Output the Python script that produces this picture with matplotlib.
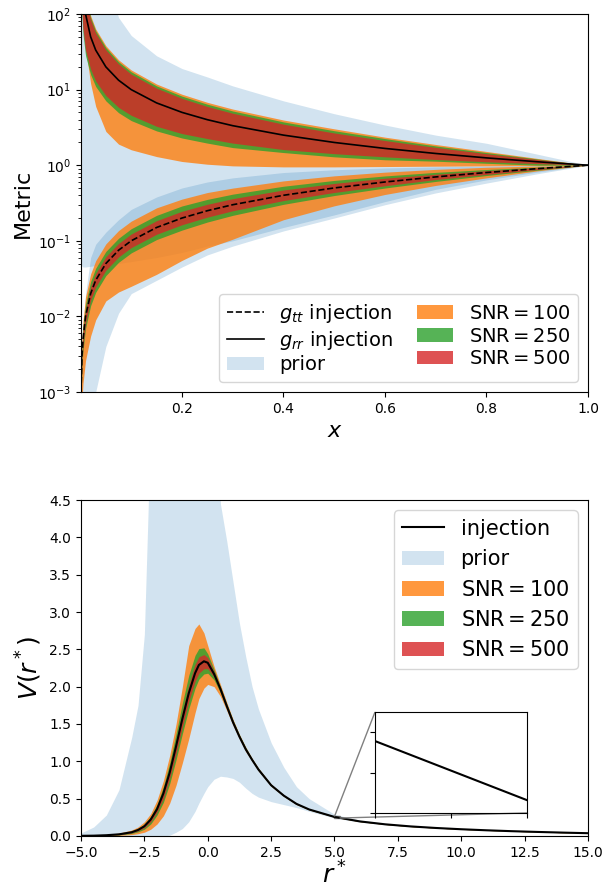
import matplotlib
matplotlib.use("Agg")
import matplotlib.pyplot as plt
from mpl_toolkits.axes_grid1.inset_locator import mark_inset

# ---------------- metric panel data ----------------
x = [0.001, 0.003, 0.005, 0.01, 0.02, 0.03, 0.05, 0.075, 0.1, 0.15,
     0.2, 0.25, 0.3, 0.4, 0.5, 0.6, 0.7, 0.8, 0.9, 1.0]

g_tt_inj = [0.001, 0.003, 0.005, 0.01, 0.02, 0.03, 0.05, 0.075, 0.1, 0.15,
            0.2, 0.25, 0.3, 0.4, 0.5, 0.6, 0.7, 0.8, 0.9, 1.0]
g_rr_inj = [1000, 333.3, 200, 100, 50, 33.33, 20, 13.33, 10, 6.667,
            5, 4, 3.333, 2.5, 2, 1.667, 1.429, 1.25, 1.111, 1.0]

# prior bands
rr_prior_hi = [1e4, 1e4, 1e4, 1e4, 1e4, 2000, 300, 90, 52, 28,
               19, 14.7, 11.2, 7.1, 4.8, 3.4, 2.5, 1.95, 1.4, 1.0]
rr_prior_lo = [0.05, 0.046, 0.045, 0.045, 0.046, 0.047, 0.048, 0.05, 0.053, 0.06,
               0.07, 0.085, 0.1, 0.15, 0.22, 0.33, 0.48, 0.64, 0.81, 1.0]
tt_prior_hi = [0.0015, 0.004, 0.007, 0.02, 0.06, 0.09, 0.13, 0.19, 0.26, 0.38,
               0.5, 0.6, 0.68, 0.8, 0.87, 0.92, 0.95, 0.97, 0.99, 1.0]
tt_prior_lo = [1e-5, 3e-5, 6e-5, 1.5e-4, 5e-4, 1e-3, 4e-3, 0.011, 0.02, 0.03,
               0.045, 0.065, 0.085, 0.135, 0.2, 0.3, 0.43, 0.58, 0.77, 1.0]

# g_rr posterior bands
rr100_hi = [1905, 635, 381, 190.5, 95.3, 63.5, 38.1, 24.8, 18.2, 11.85,
            8.69, 6.79, 5.53, 3.96, 3.03, 2.35, 1.88, 1.52, 1.23, 1.0]
rr100_lo = [800, 300, 150, 35, 12, 6, 2.8, 1.9, 1.6, 1.3,
            1.12, 1.03, 0.98, 0.95, 0.95, 0.96, 0.97, 0.98, 0.99, 1.0]
rr250_hi = [1800, 600, 360, 180, 90, 60, 36, 23.4, 17.2, 11.2,
            8.2, 6.41, 5.22, 3.74, 2.86, 2.25, 1.80, 1.47, 1.21, 1.0]
rr250_lo = [269, 89.7, 53.8, 28.2, 15.8, 11.0, 7.10, 4.95, 3.89, 2.84,
            2.29, 1.96, 1.71, 1.47, 1.29, 1.18, 1.13, 1.06, 1.00, 1.0]
rr500_hi = [1679, 560, 336, 168, 84, 56, 33.6, 21.9, 16.0, 10.45,
            7.66, 5.98, 4.87, 3.49, 2.67, 2.12, 1.72, 1.42, 1.19, 1.0]
rr500_lo = [316, 105.4, 63.2, 33.1, 18.6, 12.97, 8.34, 5.82, 4.57, 3.27,
            2.62, 2.25, 1.96, 1.61, 1.42, 1.29, 1.19, 1.11, 1.05, 1.0]

# g_tt posterior bands
tt100_hi = [0.00159, 0.00498, 0.00869, 0.0182, 0.0364, 0.0546, 0.091, 0.1365, 0.182, 0.273,
            0.356, 0.435, 0.498, 0.62, 0.723, 0.809, 0.881, 0.94, 0.976, 1.0]
tt100_lo = [3e-4, 8e-4, 1.3e-3, 2.6e-3, 5.5e-3, 9e-3, 0.016, 0.021, 0.025, 0.036,
            0.055, 0.08, 0.105, 0.19, 0.29, 0.41, 0.54, 0.68, 0.84, 1.0]
tt250_hi = [0.00132, 0.00414, 0.00707, 0.01445, 0.0289, 0.0434, 0.0723, 0.108, 0.1445, 0.217,
            0.289, 0.353, 0.414, 0.527, 0.629, 0.721, 0.804, 0.877, 0.942, 1.0]
tt250_lo = [0.000759, 0.00217, 0.00354, 0.00692, 0.01384, 0.0208, 0.0346, 0.0519, 0.0692, 0.1038,
            0.1384, 0.177, 0.217, 0.3036, 0.397, 0.499, 0.61, 0.73, 0.859, 1.0]
tt500_hi = [0.00115, 0.00353, 0.00601, 0.0123, 0.0246, 0.0369, 0.0615, 0.0923, 0.123, 0.1845,
            0.246, 0.304, 0.361, 0.47, 0.574, 0.673, 0.759, 0.847, 0.925, 1.0]
tt500_lo = [0.000871, 0.00255, 0.00416, 0.00813, 0.01626, 0.0244, 0.0407, 0.061, 0.0813, 0.122,
            0.163, 0.2055, 0.2496, 0.3404, 0.4355, 0.5346, 0.646, 0.755, 0.876, 1.0]

# ---------------- potential panel data ----------------
rstar = [-5, -4.5, -4, -3.5, -3, -2.75, -2.5, -2.25, -2, -1.75,
         -1.5, -1.25, -1, -0.75, -0.5, -0.35, -0.15, 0, 0.25, 0.5,
         0.75, 1, 1.25, 1.5, 1.75, 2, 2.5, 3, 3.5, 4,
         5, 6, 7, 8, 9, 10, 11, 12, 13, 14, 15]

V_inj = [0.002, 0.004, 0.01, 0.022, 0.05, 0.08, 0.13, 0.22, 0.36, 0.57,
         0.85, 1.2, 1.57, 1.91, 2.18, 2.29, 2.34, 2.32, 2.17, 1.97,
         1.74, 1.52, 1.33, 1.16, 1.02, 0.89, 0.68, 0.54, 0.43, 0.355,
         0.255, 0.195, 0.156, 0.128, 0.107, 0.09, 0.076, 0.064, 0.054, 0.045, 0.037]

V_prior_hi = [0.04, 0.12, 0.28, 0.62, 1.32, 1.75, 2.7, 5.5, 8, 10,
              10, 10, 10, 10, 10, 10, 10, 10, 10, 4.45,
              3.95, 3.4, 2.85, 2.4, 2.0, 1.7, 1.25, 0.92, 0.66, 0.5,
              0.29, 0.21, 0.165, 0.133, 0.11, 0.092, 0.078, 0.066, 0.055, 0.046, 0.038]
V_prior_lo = [0, 0, 0, 0, 0, 0, 0, 0, 0, 0,
              0.01, 0.05, 0.1, 0.19, 0.33, 0.44, 0.57, 0.66, 0.76, 0.8,
              0.79, 0.77, 0.72, 0.64, 0.57, 0.52, 0.46, 0.42, 0.38, 0.33,
              0.24, 0.185, 0.15, 0.124, 0.104, 0.088, 0.074, 0.062, 0.052, 0.044, 0.036]

V100_hi = [0.004, 0.008, 0.018, 0.038, 0.08, 0.12, 0.19, 0.3, 0.48, 0.74,
           1.08, 1.5, 2.0, 2.55, 2.78, 2.84, 2.72, 2.55, 2.27, 2.03,
           1.79, 1.56, 1.36, 1.19, 1.04, 0.91, 0.695, 0.55, 0.44, 0.362,
           0.26, 0.199, 0.159, 0.131, 0.109, 0.092, 0.078, 0.066, 0.056, 0.047, 0.039]
V100_lo = [0, 0.001, 0.003, 0.008, 0.018, 0.03, 0.05, 0.09, 0.16, 0.27,
           0.44, 0.68, 0.98, 1.3, 1.65, 1.84, 1.98, 2.03, 2.0, 1.87,
           1.68, 1.48, 1.3, 1.13, 1.0, 0.87, 0.665, 0.53, 0.42, 0.348,
           0.25, 0.191, 0.153, 0.125, 0.105, 0.088, 0.074, 0.062, 0.052, 0.043, 0.035]
V250_hi = [0.003, 0.006, 0.014, 0.03, 0.065, 0.1, 0.16, 0.26, 0.42, 0.66,
           0.98, 1.37, 1.78, 2.15, 2.42, 2.51, 2.52, 2.44, 2.23, 2.0,
           1.77, 1.55, 1.355, 1.185, 1.035, 0.905, 0.69, 0.547, 0.436, 0.359,
           0.258, 0.197, 0.158, 0.13, 0.108, 0.091, 0.077, 0.065, 0.055, 0.046, 0.038]
V250_lo = [0.001, 0.002, 0.006, 0.014, 0.033, 0.055, 0.09, 0.16, 0.28, 0.45,
           0.7, 1.02, 1.37, 1.7, 1.98, 2.1, 2.17, 2.18, 2.09, 1.92,
           1.71, 1.5, 1.315, 1.145, 1.005, 0.875, 0.67, 0.533, 0.424, 0.351,
           0.252, 0.193, 0.154, 0.126, 0.106, 0.089, 0.075, 0.063, 0.053, 0.044, 0.036]
V500_hi = [0.0025, 0.005, 0.012, 0.026, 0.058, 0.09, 0.145, 0.24, 0.39, 0.61,
           0.91, 1.28, 1.67, 2.02, 2.3, 2.4, 2.43, 2.39, 2.2, 1.99,
           1.76, 1.54, 1.345, 1.175, 1.028, 0.898, 0.686, 0.544, 0.434, 0.357,
           0.257, 0.196, 0.157, 0.129, 0.108, 0.09, 0.076, 0.064, 0.054, 0.045, 0.037]
V500_lo = [0.0015, 0.003, 0.008, 0.018, 0.042, 0.068, 0.11, 0.19, 0.32, 0.5,
           0.77, 1.1, 1.46, 1.8, 2.07, 2.18, 2.24, 2.24, 2.13, 1.95,
           1.725, 1.51, 1.32, 1.15, 1.012, 0.882, 0.674, 0.536, 0.426, 0.353,
           0.253, 0.194, 0.155, 0.127, 0.106, 0.089, 0.075, 0.063, 0.053, 0.044, 0.036]

snr_labels = [r"$\mathrm{SNR} = 100$", r"$\mathrm{SNR} = 250$", r"$\mathrm{SNR} = 500$"]
snr_colors = ["C1", "C2", "C3"]

fig = plt.figure(figsize=(6.03, 8.88), dpi=100)
ax1 = fig.add_axes([0.1343, 0.5586, 0.8408, 0.4256])
ax2 = fig.add_axes([0.1343, 0.0586, 0.8408, 0.3783])

# ---------- metric panel ----------
ax1.fill_between(x, rr_prior_lo, rr_prior_hi, color="C0", alpha=0.2, lw=0, label="prior")
ax1.fill_between(x, tt_prior_lo, tt_prior_hi, color="C0", alpha=0.2, lw=0)
rr_bands = [(rr100_lo, rr100_hi), (rr250_lo, rr250_hi), (rr500_lo, rr500_hi)]
tt_bands = [(tt100_lo, tt100_hi), (tt250_lo, tt250_hi), (tt500_lo, tt500_hi)]
for (rlo, rhi), (tlo, thi), col, lab in zip(rr_bands, tt_bands, snr_colors, snr_labels):
    ax1.fill_between(x, rlo, rhi, color=col, alpha=0.8, lw=0, label=lab)
    ax1.fill_between(x, tlo, thi, color=col, alpha=0.8, lw=0)
ax1.plot(x, g_tt_inj, "k--", lw=1.2, label=r"$g_{tt}$ injection")
ax1.plot(x, g_rr_inj, "k-", lw=1.2, label=r"$g_{rr}$ injection")
ax1.set_yscale("log")
ax1.set_xlim(0.001, 1.0)
ax1.set_ylim(1e-3, 1e2)
ax1.set_xlabel(r"$x$", fontsize=16)
ax1.set_ylabel("Metric", fontsize=16)
h, l = ax1.get_legend_handles_labels()
order = [l.index(r"$g_{tt}$ injection"), l.index(r"$g_{rr}$ injection"), l.index("prior")] + \
        [l.index(s) for s in snr_labels]
ax1.legend([h[i] for i in order], [l[i] for i in order], ncol=2, loc="lower right",
           fontsize=14, handlelength=1.9, columnspacing=1.2, labelspacing=0.2)

# ---------- potential panel ----------
ax2.fill_between(rstar, V_prior_lo, V_prior_hi, color="C0", alpha=0.2, lw=0, label="prior")
V_bands = [(V100_lo, V100_hi), (V250_lo, V250_hi), (V500_lo, V500_hi)]
for (lo, hi), col, lab in zip(V_bands, snr_colors, snr_labels):
    ax2.fill_between(rstar, lo, hi, color=col, alpha=0.8, lw=0, label=lab)
ax2.plot(rstar, V_inj, "k-", lw=1.5, label="injection")
ax2.set_xlim(-5, 15)
ax2.set_ylim(0, 4.5)
ax2.set_xlabel(r"$r^*$", fontsize=18, labelpad=1)
ax2.set_ylabel(r"$V(r^*)$", fontsize=18)
h2, l2 = ax2.get_legend_handles_labels()
order2 = [l2.index("injection"), l2.index("prior")] + [l2.index(s) for s in snr_labels]
ax2.legend([h2[i] for i in order2], [l2[i] for i in order2], loc="upper right", fontsize=15)

# zoomed view of the tail
axins = fig.add_axes([0.6219, 0.0845, 0.2521, 0.1137])
axins.plot(rstar, V_inj, "k-", lw=1.5)
x0, x1 = 5.0, 5.2
y0, y1 = 0.2404, 0.2609
axins.set_xlim(x0, x1)
axins.set_ylim(y0, y1)
axins.set_xticks([x0, 0.5 * (x0 + x1), x1])
axins.set_yticks([y0, y0 + 0.4 * (y1 - y0), y0 + 0.8 * (y1 - y0)])
axins.set_xticklabels([])
axins.set_yticklabels([])
mark_inset(ax2, axins, loc1=2, loc2=4, fc="none", ec="0.5")

fig.savefig("out.png", dpi=100)
